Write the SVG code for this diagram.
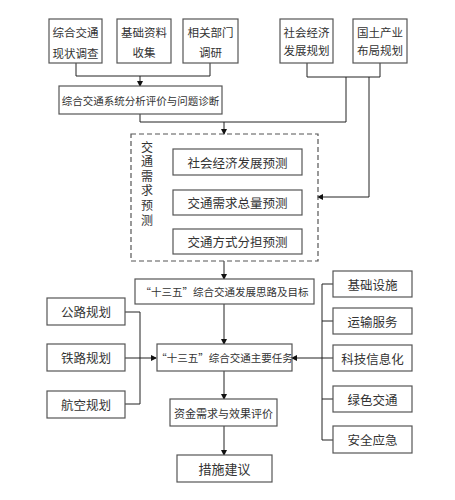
<svg xmlns="http://www.w3.org/2000/svg" width="455" height="500" viewBox="0 0 455 500">
<defs>
<marker id="arr" markerWidth="6" markerHeight="6" refX="5" refY="3" orient="auto" markerUnits="userSpaceOnUse">
<path d="M0,0 L6,3 L0,6 Z" fill="#111"/>
</marker>
<style>
.box{fill:#fff;stroke:#555;stroke-width:1.2}
.dash{fill:none;stroke:#555;stroke-width:1.2;stroke-dasharray:5,3}
.t{font-family:"Noto Sans CJK SC","Noto Sans",sans-serif;fill:#333;text-anchor:middle;dominant-baseline:central}
.v{font-family:"Noto Sans CJK SC","Noto Sans",sans-serif;fill:#333;writing-mode:vertical-rl;text-anchor:start;letter-spacing:2.6px}
.ln{fill:none;stroke:#222;stroke-width:1}
</style>
</defs>
<rect width="455" height="500" fill="#fff"/>
<g id="connectors">
<polyline class="ln" points="76,63 76,76 210,76 210,63"/>
<line class="ln" x1="140" y1="76" x2="140" y2="86" marker-end="url(#arr)"/>
<polyline class="ln" points="140,114 140,122 346,122 346,77"/>
<polyline class="ln" points="307,63 307,77 380,77 380,63"/>
<line class="ln" x1="224" y1="122" x2="224" y2="134" marker-end="url(#arr)"/>
<polyline class="ln" points="369,77 369,197 318,197" marker-end="url(#arr)"/>
<line class="ln" x1="224" y1="261" x2="224" y2="279" marker-end="url(#arr)"/>
<line class="ln" x1="224" y1="304" x2="224" y2="344" marker-end="url(#arr)"/>
<line class="ln" x1="224" y1="371" x2="224" y2="399" marker-end="url(#arr)"/>
<line class="ln" x1="224" y1="426" x2="224" y2="455" marker-end="url(#arr)"/>
<polyline class="ln" points="125,312 140,312 140,404 125,404"/>
<line class="ln" x1="125" y1="358" x2="156" y2="358" marker-end="url(#arr)"/>
<line class="ln" x1="322" y1="284" x2="322" y2="440"/>
<line class="ln" x1="322" y1="284" x2="333" y2="284"/>
<line class="ln" x1="322" y1="321" x2="333" y2="321"/>
<line class="ln" x1="322" y1="358" x2="333" y2="358"/>
<line class="ln" x1="322" y1="399" x2="333" y2="399"/>
<line class="ln" x1="322" y1="440" x2="333" y2="440"/>
<line class="ln" x1="322" y1="358" x2="292" y2="358" marker-end="url(#arr)"/>
</g>
<g id="n1"><rect class="box" x="49" y="19" width="53" height="44"/>
<text class="t" x="75.5" y="32" font-size="11.5">综合交通</text><text class="t" x="75.5" y="53" font-size="11.5">现状调查</text></g>
<g id="n2"><rect class="box" x="117" y="19" width="54" height="44"/>
<text class="t" x="144" y="32" font-size="11.5">基础资料</text><text class="t" x="144" y="51.5" font-size="11.5">收集</text></g>
<g id="n3"><rect class="box" x="183" y="19" width="55" height="44"/>
<text class="t" x="210.5" y="32" font-size="11.5">相关部门</text><text class="t" x="210.5" y="51.5" font-size="11.5">调研</text></g>
<g id="n4"><rect class="box" x="280" y="19" width="53" height="44"/>
<text class="t" x="306.5" y="32" font-size="11.5">社会经济</text><text class="t" x="306.5" y="50" font-size="11.5">发展规划</text></g>
<g id="n5"><rect class="box" x="353" y="19" width="54" height="44"/>
<text class="t" x="380" y="32" font-size="11.5">国土产业</text><text class="t" x="380" y="50" font-size="11.5">布局规划</text></g>
<g id="n6"><rect class="box" x="59" y="86" width="163" height="28"/>
<text class="t" x="140.5" y="100" font-size="10.5">综合交通系统分析评价与问题诊断</text></g>
<g id="n7"><rect class="dash" x="131" y="134" width="187" height="127"/>
<text class="v" x="147" y="141" font-size="12">交通需求预测</text></g>
<g id="n8"><rect class="box" x="173" y="149" width="129" height="26"/>
<text class="t" x="237.5" y="162" font-size="12.5">社会经济发展预测</text></g>
<g id="n9"><rect class="box" x="173" y="190" width="129" height="25"/>
<text class="t" x="237.5" y="202.5" font-size="12.5">交通需求总量预测</text></g>
<g id="n10"><rect class="box" x="173" y="229" width="129" height="25"/>
<text class="t" x="237.5" y="241.5" font-size="12.5">交通方式分担预测</text></g>
<g id="n11"><rect class="box" x="135" y="279" width="179" height="25"/>
<text class="t" x="224.5" y="291.5" font-size="10.5">“十三五”综合交通发展思路及目标</text></g>
<g id="n12"><rect class="box" x="47" y="298" width="78" height="27"/>
<text class="t" x="86" y="311.5" font-size="12.5">公路规划</text></g>
<g id="n13"><rect class="box" x="47" y="344" width="78" height="27"/>
<text class="t" x="86" y="357.5" font-size="12.5">铁路规划</text></g>
<g id="n14"><rect class="box" x="47" y="391" width="78" height="27"/>
<text class="t" x="86" y="404.5" font-size="12.5">航空规划</text></g>
<g id="n15"><rect class="box" x="157" y="344" width="135" height="27"/>
<text class="t" x="224.5" y="357.5" font-size="10.5">“十三五”综合交通主要任务</text></g>
<g id="n16"><rect class="box" x="170" y="399" width="107" height="27"/>
<text class="t" x="223.5" y="412.5" font-size="11">资金需求与效果评价</text></g>
<g id="n17"><rect class="box" x="177" y="455" width="95" height="27"/>
<text class="t" x="224.5" y="468.5" font-size="13">措施建议</text></g>
<g id="n18"><rect class="box" x="333" y="271" width="79" height="26"/>
<text class="t" x="372.5" y="284" font-size="12.5">基础设施</text></g>
<g id="n19"><rect class="box" x="333" y="308" width="79" height="26"/>
<text class="t" x="372.5" y="321" font-size="12.5">运输服务</text></g>
<g id="n20"><rect class="box" x="333" y="345" width="79" height="26"/>
<text class="t" x="372.5" y="358" font-size="12.5">科技信息化</text></g>
<g id="n21"><rect class="box" x="333" y="386" width="79" height="26"/>
<text class="t" x="372.5" y="399" font-size="12.5">绿色交通</text></g>
<g id="n22"><rect class="box" x="333" y="426" width="79" height="27"/>
<text class="t" x="372.5" y="439.5" font-size="12.5">安全应急</text></g>
</svg>
